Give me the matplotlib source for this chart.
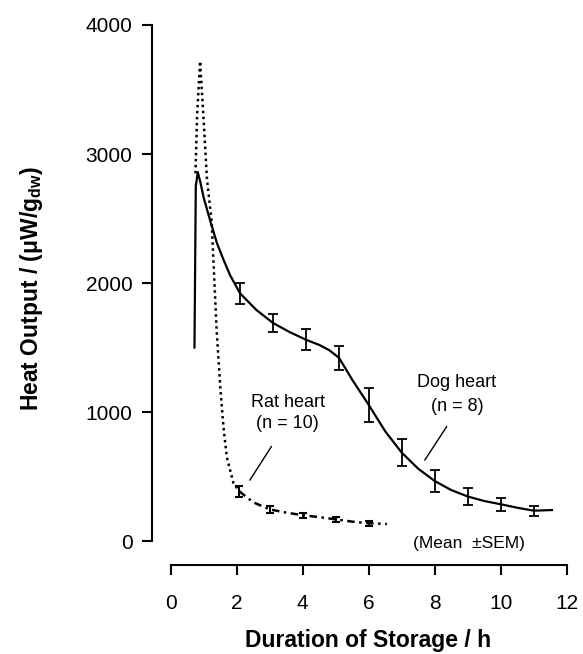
import matplotlib
matplotlib.use("Agg")
from matplotlib import pyplot as plt

plt.rcParams['font.family'] = ['Liberation Sans', 'DejaVu Sans']
plt.rcParams['mathtext.fontset'] = 'custom'
plt.rcParams['mathtext.rm'] = 'Liberation Sans'
plt.rcParams['mathtext.bf'] = 'Liberation Sans:bold'

# dog heart: curve
dog_x = [0.72, 0.76, 0.82, 0.9, 1.0, 1.2, 1.4, 1.6, 1.8, 2.1, 2.6, 3.1, 3.6, 4.1, 4.5, 4.8, 5.1, 5.5, 6.0, 6.5, 7.0, 7.5, 8.0, 8.5, 9.0, 9.5, 10.0, 10.5, 11.0, 11.55]
dog_y = [1500, 2750, 2860, 2780, 2660, 2480, 2310, 2180, 2060, 1920, 1790, 1690, 1620, 1560, 1520, 1480, 1420, 1250, 1055, 850, 685, 560, 465, 395, 345, 310, 285, 258, 235, 240]
# dog heart: means with SEM
dog_err_x = [2.1, 3.1, 4.1, 5.1, 6.0, 7.0, 8.0, 9.0, 10.0, 11.0]
dog_err_y = [1920, 1690, 1560, 1420, 1055, 685, 465, 345, 285, 235]
dog_sem = [80, 70, 80, 95, 130, 105, 85, 65, 50, 40]

# rat heart: steep part (dotted) and tail (dash-dot)
rat_x1 = [0.75, 0.8, 0.89, 1.0, 1.1, 1.24, 1.39, 1.5, 1.6, 1.7, 1.9, 2.08]
rat_y1 = [2850, 3300, 3720, 3250, 2800, 2480, 1640, 1200, 880, 650, 450, 385]
rat_x2 = [2.08, 2.5, 3.0, 3.5, 4.0, 4.5, 5.0, 5.5, 6.0, 6.55]
rat_y2 = [385, 300, 245, 220, 200, 185, 168, 150, 138, 132]
rat_err_x = [2.08, 3.0, 4.0, 5.0, 6.0]
rat_err_y = [385, 245, 200, 168, 138]
rat_sem = [45, 25, 20, 18, 18]

fig = plt.figure(figsize=(5.83, 6.54), dpi=100)
ax = fig.add_axes([152/583, 1-565/654, (575-152)/583, (565-25)/654])
ax.set_xlim(-0.567, 12.25)
ax.set_ylim(-186, 4000)

ax.plot(dog_x, dog_y, color='black', lw=1.6, solid_joinstyle='round', clip_on=False)
ax.errorbar(dog_err_x, dog_err_y, yerr=dog_sem, fmt='none', ecolor='black',
            elinewidth=1.3, capsize=3.5, capthick=1.3)

ax.plot(rat_x1, rat_y1, color='black', lw=1.8, linestyle=(0, (1, 1.4)), clip_on=False)
ax.plot(rat_x2, rat_y2, color='black', lw=1.8, linestyle=(0, (3, 1.8, 1, 1.8)))
ax.errorbar(rat_err_x, rat_err_y, yerr=rat_sem, fmt='none', ecolor='black',
            elinewidth=1.5, capsize=3, capthick=1.5)

# annotations
ax.text(3.55, 1070, 'Rat heart', ha='center', va='center', fontsize=13)
ax.text(3.55, 910, '(n = 10)', ha='center', va='center', fontsize=13)
ax.plot([3.05, 2.4], [732, 473], color='black', lw=1)
ax.text(8.67, 1225, 'Dog heart', ha='center', va='center', fontsize=13)
ax.text(8.67, 1040, '(n = 8)', ha='center', va='center', fontsize=13)
ax.plot([8.36, 7.7], [886, 628], color='black', lw=1)
ax.text(9.04, -16, '(Mean  ±SEM)', ha='center', va='center', fontsize=12.5)

# axes styling: detached spines
for s in ['top', 'right']:
    ax.spines[s].set_visible(False)
ax.spines['left'].set_bounds(0, 4000)
ax.spines['bottom'].set_bounds(0, 12)
ax.spines['left'].set_linewidth(1.5)
ax.spines['bottom'].set_linewidth(1.5)
ax.set_yticks([0, 1000, 2000, 3000, 4000])
ax.set_xticks([0, 2, 4, 6, 8, 10, 12])
ax.tick_params(axis='y', direction='out', length=7, width=1.5, pad=7, labelsize=15)
ax.tick_params(axis='x', direction='out', length=7, width=1.5, pad=14, labelsize=15)

fig.text(368/583, 1-641/654, 'Duration of Storage / h', ha='center', va='center',
         fontsize=16.5, fontweight='bold')
fig.text(32/583, 1-288/654, 'Heat Output / (μW/$\\mathbf{g_{dw}}$)', ha='center', va='center',
         fontsize=16.5, fontweight='bold', rotation=90)

fig.savefig('out.png', dpi=100)
